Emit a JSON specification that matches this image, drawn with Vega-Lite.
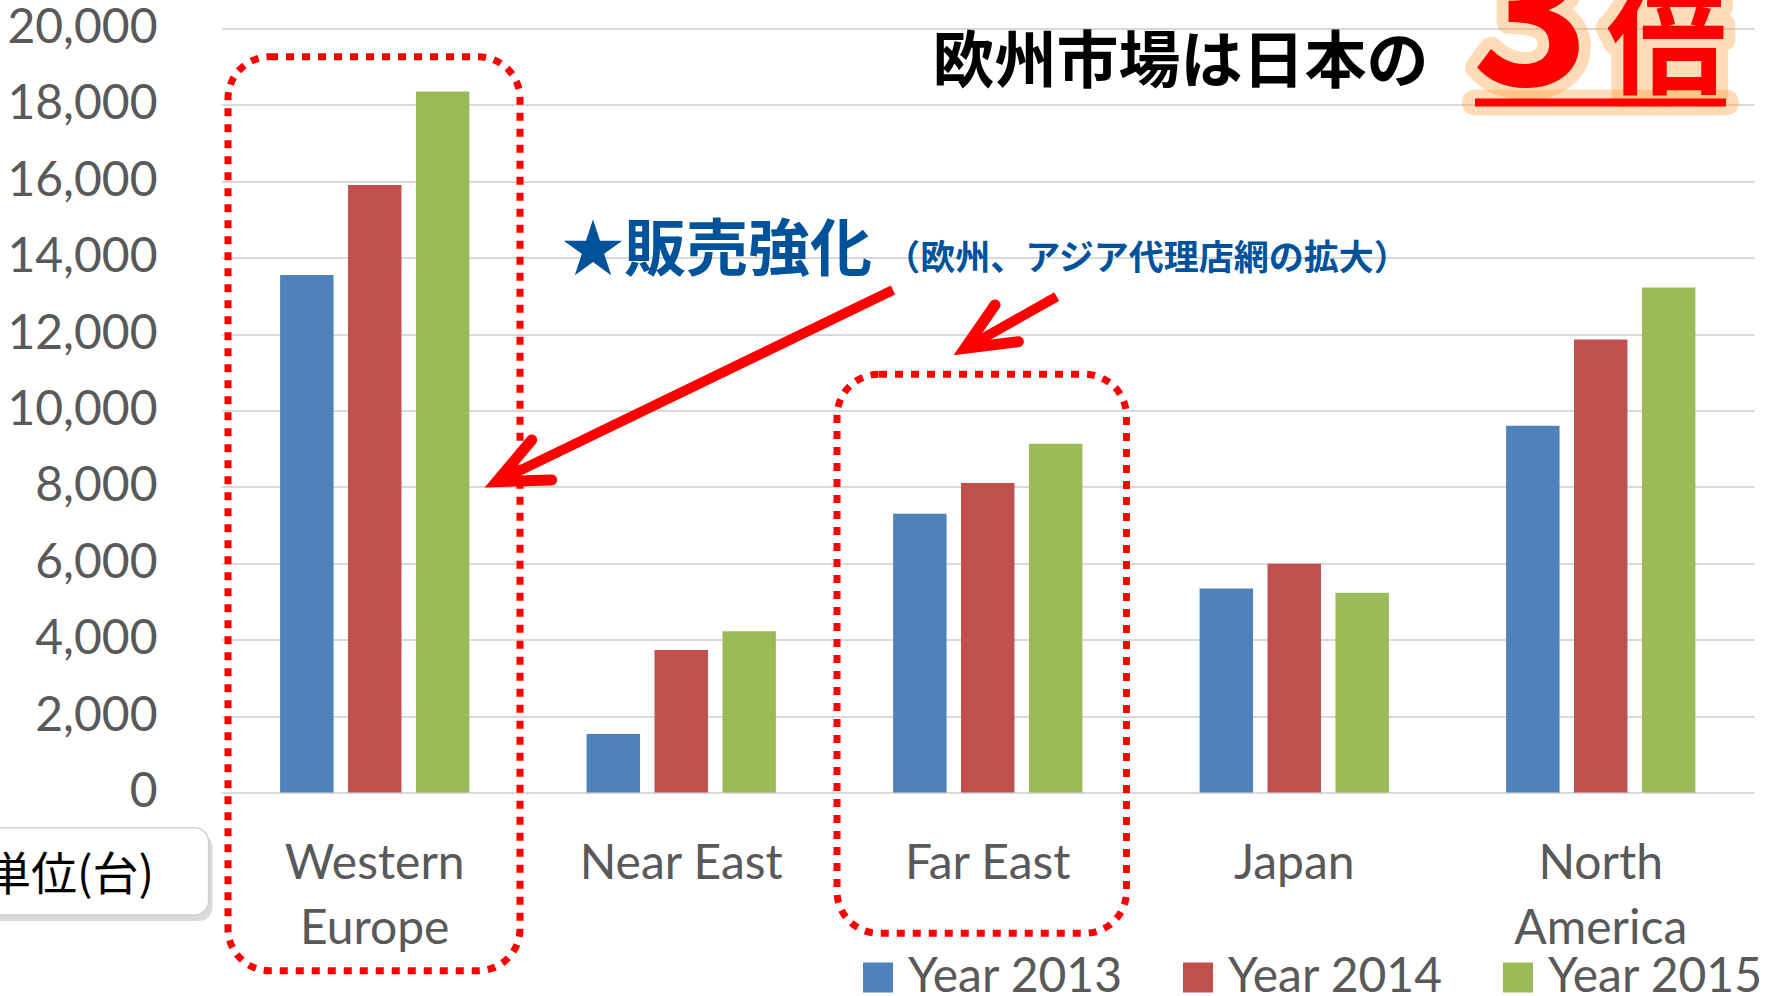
{
  "$schema": "https://vega.github.io/schema/vega-lite/v6.json",
  "width": 1532.5,
  "height": 764,
  "autosize": {"type": "none"},
  "padding": {"left": 221.5, "top": 28.5, "right": 21, "bottom": 203.5},
  "background": "white",
  "config": {"view": {"stroke": null}, "font": "Lato"},
  "datasets": {
    "sales": [
      {"region": "Western Europe", "year": "Year 2013", "units": 13550},
      {"region": "Western Europe", "year": "Year 2014", "units": 15900},
      {"region": "Western Europe", "year": "Year 2015", "units": 18350},
      {"region": "Near East", "year": "Year 2013", "units": 1530},
      {"region": "Near East", "year": "Year 2014", "units": 3730},
      {"region": "Near East", "year": "Year 2015", "units": 4220},
      {"region": "Far East", "year": "Year 2013", "units": 7300},
      {"region": "Far East", "year": "Year 2014", "units": 8100},
      {"region": "Far East", "year": "Year 2015", "units": 9130},
      {"region": "Japan", "year": "Year 2013", "units": 5340},
      {"region": "Japan", "year": "Year 2014", "units": 5990},
      {"region": "Japan", "year": "Year 2015", "units": 5230},
      {"region": "North America", "year": "Year 2013", "units": 9600},
      {"region": "North America", "year": "Year 2014", "units": 11860},
      {"region": "North America", "year": "Year 2015", "units": 13220}
    ],
    "boxes": [
      {"name": "Western Europe", "u": 0.0212, "u2": 0.9739, "v": 19262, "v2": -4665},
      {"name": "Far East", "u": 2.0082, "u2": 2.9527, "v": 10948, "v2": -3686}
    ],
    "unitShadow": [{"u": -0.8, "u2": -0.029, "v": -1078, "v2": -3364}],
    "unitBox": [{"u": -0.8, "u2": -0.0421, "v": -921, "v2": -3207}],
    "unitText": [{"label": "単位(台)", "u": -0.7716, "v": -2194}],
    "shafts": [
      {"arrow": "A1", "u": 2.1909, "v": 13154, "u2": 0.8979, "v2": 8136},
      {"arrow": "A2", "u": 2.725, "v": 12979, "u2": 2.4258, "v2": 11628}
    ],
    "heads": [
      {"arrow": "A1", "o": 1, "u": 1.0121, "v": 9228},
      {"arrow": "A1", "o": 2, "u": 0.8979, "v": 8136},
      {"arrow": "A1", "o": 3, "u": 1.0773, "v": 8181},
      {"arrow": "A2", "o": 1, "u": 2.5237, "v": 12762},
      {"arrow": "A2", "o": 2, "u": 2.4258, "v": 11628},
      {"arrow": "A2", "o": 3, "u": 2.5997, "v": 11801}
    ],
    "underline": [{"u": 4.0897, "u2": 4.9086, "v": 18063}],
    "three": [{"label": "3", "u": 4.2724, "v": 18521}],
    "bai": [{"label": "倍", "u": 4.7145, "v": 18521}],
    "headline": [{"label": "欧州市場は日本の", "u": 3.1289, "v": 19078}],
    "sales_push": [{"label": "★販売強化", "u": 1.6166, "v": 14144}],
    "sales_note": [{"label": "（欧州、アジア代理店網の拡大）", "u": 3.0196, "v": 13966}]
  },
  "resolve": {"scale": {"x": "independent", "y": "independent"}},
  "layer": [
    {
      "data": {"name": "sales"},
      "mark": {"type": "bar"},
      "encoding": {
        "x": {
          "field": "region", "type": "nominal",
          "sort": ["Western Europe", "Near East", "Far East", "Japan", "North America"],
          "scale": {"paddingInner": 0.3824, "paddingOuter": 0.1912},
          "axis": {
            "title": null, "labelAngle": 0, "domain": false, "ticks": false, "tickSize": 0,
            "labelPadding": 48, "labelFont": "Lato", "labelFontSize": 48, "labelColor": "#595959",
            "labelLineHeight": 65, "labelLimit": 400,
            "labelExpr": "datum.label == 'Western Europe' ? ['Western', 'Europe'] : datum.label == 'North America' ? ['North', 'America'] : datum.label"
          }
        },
        "xOffset": {
          "field": "year", "type": "nominal",
          "sort": ["Year 2013", "Year 2014", "Year 2015"],
          "scale": {"paddingInner": 0.213, "paddingOuter": 0}
        },
        "y": {
          "field": "units", "type": "quantitative",
          "scale": {"domain": [0, 20000], "nice": false},
          "axis": {
            "title": null, "values": [0, 2000, 4000, 6000, 8000, 10000, 12000, 14000, 16000, 18000, 20000],
            "format": ",d", "domain": false, "ticks": false, "tickSize": 0, "labelPadding": 64.5,
            "labelFont": "Lato", "labelFontSize": 48, "labelColor": "#595959", "labelLimit": 300,
            "gridColor": "#D9D9D9", "gridWidth": 2
          }
        },
        "color": {
          "field": "year", "type": "nominal",
          "scale": {"domain": ["Year 2013", "Year 2014", "Year 2015"], "range": ["#4F81BD", "#C0504D", "#9BBB59"]},
          "legend": {
            "title": null, "orient": "none", "legendX": 632.5, "legendY": 925,
            "direction": "horizontal", "columns": 3, "symbolType": "square", "symbolSize": 900,
            "symbolStrokeWidth": 0, "labelFont": "Lato", "labelFontSize": 48, "labelColor": "#595959",
            "labelOffset": 6, "columnPadding": 50, "labelLimit": 400, "padding": 0, "rowPadding": 0
          }
        }
      }
    },
    {
      "data": {"name": "boxes"},
      "mark": {"type": "rect", "filled": false, "stroke": "#FF0000", "strokeWidth": 7, "strokeDash": [8, 8], "cornerRadius": 42},
      "encoding": {
        "x": {"field": "u", "type": "quantitative", "scale": {"domain": [0, 5], "nice": false}, "axis": null},
        "x2": {"field": "u2"},
        "y": {"field": "v", "type": "quantitative", "scale": {"domain": [0, 20000], "nice": false}, "axis": null},
        "y2": {"field": "v2"}
      }
    },
    {
      "data": {"name": "unitShadow"},
      "mark": {"type": "rect", "fill": "#BFBFBF", "opacity": 0.6, "cornerRadius": 14},
      "encoding": {
        "x": {"field": "u", "type": "quantitative", "scale": {"domain": [0, 5], "nice": false}, "axis": null},
        "x2": {"field": "u2"},
        "y": {"field": "v", "type": "quantitative", "scale": {"domain": [0, 20000], "nice": false}, "axis": null},
        "y2": {"field": "v2"}
      }
    },
    {
      "data": {"name": "unitBox"},
      "mark": {"type": "rect", "fill": "#FFFFFF", "stroke": "#D0D0D0", "strokeWidth": 1.5, "cornerRadius": 14},
      "encoding": {
        "x": {"field": "u", "type": "quantitative", "scale": {"domain": [0, 5], "nice": false}, "axis": null},
        "x2": {"field": "u2"},
        "y": {"field": "v", "type": "quantitative", "scale": {"domain": [0, 20000], "nice": false}, "axis": null},
        "y2": {"field": "v2"}
      }
    },
    {
      "data": {"name": "unitText"},
      "mark": {"type": "text", "font": "Noto Sans CJK JP", "fontSize": 46, "color": "#000000", "align": "left", "baseline": "middle"},
      "encoding": {
        "x": {"field": "u", "type": "quantitative", "scale": {"domain": [0, 5], "nice": false}, "axis": null},
        "y": {"field": "v", "type": "quantitative", "scale": {"domain": [0, 20000], "nice": false}, "axis": null},
        "text": {"field": "label"}
      }
    },
    {
      "data": {"name": "shafts"},
      "mark": {"type": "rule", "color": "#FF0000", "strokeWidth": 10, "strokeCap": "butt"},
      "encoding": {
        "x": {"field": "u", "type": "quantitative", "scale": {"domain": [0, 5], "nice": false}, "axis": null},
        "x2": {"field": "u2"},
        "y": {"field": "v", "type": "quantitative", "scale": {"domain": [0, 20000], "nice": false}, "axis": null},
        "y2": {"field": "v2"}
      }
    },
    {
      "data": {"name": "heads"},
      "mark": {"type": "line", "color": "#FF0000", "strokeWidth": 11, "strokeCap": "round", "strokeJoin": "miter"},
      "encoding": {
        "x": {"field": "u", "type": "quantitative", "scale": {"domain": [0, 5], "nice": false}, "axis": null},
        "y": {"field": "v", "type": "quantitative", "scale": {"domain": [0, 20000], "nice": false}, "axis": null},
        "detail": {"field": "arrow"},
        "order": {"field": "o"}
      }
    },
    {
      "data": {"name": "underline"},
      "mark": {"type": "rule", "color": "#FF9A30", "strokeWidth": 26, "opacity": 0.35, "strokeCap": "round"},
      "encoding": {
        "x": {"field": "u", "type": "quantitative", "scale": {"domain": [0, 5], "nice": false}, "axis": null},
        "x2": {"field": "u2"},
        "y": {"field": "v", "type": "quantitative", "scale": {"domain": [0, 20000], "nice": false}, "axis": null}
      }
    },
    {
      "data": {"name": "three"},
      "mark": {"type": "text", "font": "Noto Sans CJK JP", "fontWeight": "bold", "fontSize": 200, "align": "center", "baseline": "alphabetic", "fill": "#FF9A30", "fillOpacity": 0.35, "stroke": "#FF9A30", "strokeOpacity": 0.35, "strokeWidth": 24, "strokeJoin": "round"},
      "encoding": {
        "x": {"field": "u", "type": "quantitative", "scale": {"domain": [0, 5], "nice": false}, "axis": null},
        "y": {"field": "v", "type": "quantitative", "scale": {"domain": [0, 20000], "nice": false}, "axis": null},
        "text": {"field": "label"}
      }
    },
    {
      "data": {"name": "bai"},
      "mark": {"type": "text", "font": "Noto Sans CJK JP", "fontWeight": "bold", "fontSize": 120, "align": "center", "baseline": "alphabetic", "fill": "#FF9A30", "fillOpacity": 0.35, "stroke": "#FF9A30", "strokeOpacity": 0.35, "strokeWidth": 24, "strokeJoin": "round"},
      "encoding": {
        "x": {"field": "u", "type": "quantitative", "scale": {"domain": [0, 5], "nice": false}, "axis": null},
        "y": {"field": "v", "type": "quantitative", "scale": {"domain": [0, 20000], "nice": false}, "axis": null},
        "text": {"field": "label"}
      }
    },
    {
      "data": {"name": "underline"},
      "mark": {"type": "rule", "color": "#FF0000", "strokeWidth": 8, "strokeCap": "butt"},
      "encoding": {
        "x": {"field": "u", "type": "quantitative", "scale": {"domain": [0, 5], "nice": false}, "axis": null},
        "x2": {"field": "u2"},
        "y": {"field": "v", "type": "quantitative", "scale": {"domain": [0, 20000], "nice": false}, "axis": null}
      }
    },
    {
      "data": {"name": "three"},
      "mark": {"type": "text", "font": "Noto Sans CJK JP", "fontWeight": "bold", "fontSize": 200, "align": "center", "baseline": "alphabetic", "color": "#FF0000"},
      "encoding": {
        "x": {"field": "u", "type": "quantitative", "scale": {"domain": [0, 5], "nice": false}, "axis": null},
        "y": {"field": "v", "type": "quantitative", "scale": {"domain": [0, 20000], "nice": false}, "axis": null},
        "text": {"field": "label"}
      }
    },
    {
      "data": {"name": "bai"},
      "mark": {"type": "text", "font": "Noto Sans CJK JP", "fontWeight": "bold", "fontSize": 120, "align": "center", "baseline": "alphabetic", "color": "#FF0000"},
      "encoding": {
        "x": {"field": "u", "type": "quantitative", "scale": {"domain": [0, 5], "nice": false}, "axis": null},
        "y": {"field": "v", "type": "quantitative", "scale": {"domain": [0, 20000], "nice": false}, "axis": null},
        "text": {"field": "label"}
      }
    },
    {
      "data": {"name": "headline"},
      "mark": {"type": "text", "font": "Noto Sans CJK JP", "fontWeight": "bold", "fontSize": 62, "align": "center", "baseline": "middle", "color": "#000000"},
      "encoding": {
        "x": {"field": "u", "type": "quantitative", "scale": {"domain": [0, 5], "nice": false}, "axis": null},
        "y": {"field": "v", "type": "quantitative", "scale": {"domain": [0, 20000], "nice": false}, "axis": null},
        "text": {"field": "label"}
      }
    },
    {
      "data": {"name": "sales_push"},
      "mark": {"type": "text", "font": "Noto Sans CJK JP", "fontWeight": "bold", "fontSize": 62, "align": "center", "baseline": "middle", "color": "#00529B"},
      "encoding": {
        "x": {"field": "u", "type": "quantitative", "scale": {"domain": [0, 5], "nice": false}, "axis": null},
        "y": {"field": "v", "type": "quantitative", "scale": {"domain": [0, 20000], "nice": false}, "axis": null},
        "text": {"field": "label"}
      }
    },
    {
      "data": {"name": "sales_note"},
      "mark": {"type": "text", "font": "Noto Sans CJK JP", "fontWeight": "bold", "fontSize": 35, "align": "center", "baseline": "middle", "color": "#00529B"},
      "encoding": {
        "x": {"field": "u", "type": "quantitative", "scale": {"domain": [0, 5], "nice": false}, "axis": null},
        "y": {"field": "v", "type": "quantitative", "scale": {"domain": [0, 20000], "nice": false}, "axis": null},
        "text": {"field": "label"}
      }
    }
  ]
}
